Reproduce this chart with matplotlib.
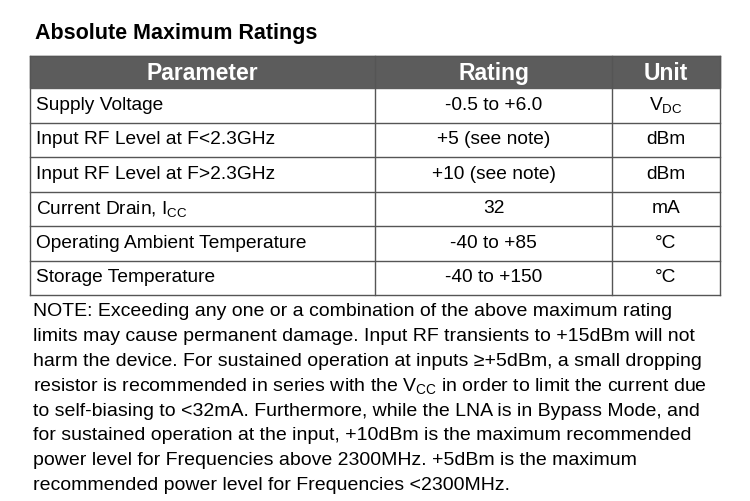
import matplotlib
matplotlib.use('Agg')
import matplotlib.pyplot as plt
from matplotlib.patches import Rectangle

plt.rcParams['font.family'] = ['Liberation Sans', 'DejaVu Sans']
plt.rcParams['mathtext.fontset'] = 'custom'
plt.rcParams['mathtext.rm'] = 'Liberation Sans'
plt.rcParams['mathtext.it'] = 'Liberation Sans'

# table data
headers = ["Parameter", "Rating", "Unit"]
params = ["Supply Voltage", "Input RF Level at F<2.3GHz", "Input RF Level at F>2.3GHz",
          r"Current Drain, I$_{\mathrm{CC}}$", "Operating Ambient Temperature", "Storage Temperature"]
ratings = ["-0.5 to +6.0", "+5 (see note)", "+10 (see note)", "32", "-40 to +85", "-40 to +150"]
units = [r"V$_{\mathrm{DC}}$", "dBm", "dBm", "mA", "°C", "°C"]
note_lines = [
    "NOTE: Exceeding any one or a combination of the above maximum rating",
    "limits may cause permanent damage. Input RF transients to +15dBm will not",
    "harm the device. For sustained operation at inputs ≥+5dBm, a small dropping",
    r"resistor is recommended in series with the V$_{\mathrm{CC}}$ in order to limit the current due",
    "to self-biasing to <32mA. Furthermore, while the LNA is in Bypass Mode, and",
    "for sustained operation at the input, +10dBm is the maximum recommended",
    "power level for Frequencies above 2300MHz. +5dBm is the maximum",
    "recommended power level for Frequencies <2300MHz.",
]

fig = plt.figure(figsize=(7.5, 5.01), dpi=100)
ax = fig.add_axes([0, 0, 1, 1])
ax.set_xlim(0, 750)
ax.set_ylim(501, 0)
ax.axis('off')

ax.text(35, 33, "Absolute Maximum Ratings", fontsize=15.5, fontweight='bold', va='center')

col_x = [30, 375, 612, 720]
top, head_h, row_h = 56, 32, 34.5
ax.add_patch(Rectangle((col_x[0], top), col_x[-1] - col_x[0], head_h, color='#5c5c5c'))
for i, h in enumerate(headers):
    ax.text((col_x[i] + col_x[i + 1]) / 2, top + head_h / 2 + 1, h, color='white',
            fontsize=16.5, fontweight='bold', ha='center', va='center')

y0 = top + head_h
n = len(params)
for r in range(n):
    yc = y0 + r * row_h + row_h / 2
    ax.text(col_x[0] + 6, yc, params[r], fontsize=13.8, va='center')
    ax.text((col_x[1] + col_x[2]) / 2, yc, ratings[r], fontsize=13.8, ha='center', va='center')
    ax.text((col_x[2] + col_x[3]) / 2, yc, units[r], fontsize=13.8, ha='center', va='center')
    ax.plot([col_x[0], col_x[-1]], [y0 + (r + 1) * row_h] * 2, color='#555555', lw=1)
for x in col_x:
    ax.plot([x, x], [top, y0 + n * row_h], color='#555555', lw=1)
ax.plot([col_x[0], col_x[-1]], [top, top], color='#555555', lw=1)

for i, line in enumerate(note_lines):
    ax.text(33, 312 + i * 24.8, line, fontsize=14, va='center')

fig.savefig("out.png", dpi=100)
